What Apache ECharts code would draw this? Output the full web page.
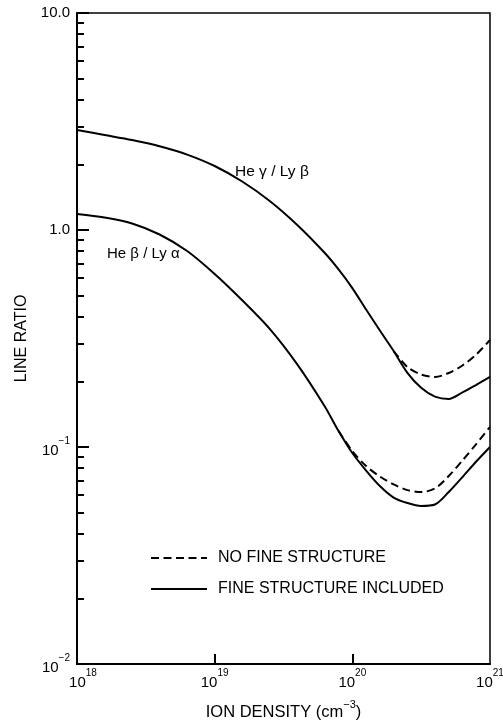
<!DOCTYPE html>
<html>
<head>
<meta charset="utf-8">
<script src="https://cdn.jsdelivr.net/npm/echarts@6/dist/echarts.min.js"></script>
<style>
  html, body { margin: 0; padding: 0; background: #fff; }
  #chart { width: 503px; height: 721px; }
</style>
</head>
<body>
<div id="chart"></div>
<script>
// ---- Data (ion density in cm^-3, line ratio) ----
const xMin = 1e18, xMax = 1e21;
const yMin = 0.01, yMax = 10;
const xLabelValues = [1e18, 1e19, 1e20, 1e21];
const xTickValues = [1e19, 1e20];
const yLabelValues = [0.01, 0.1, 1, 10];
const yMinorTickValues = [0.02,0.03,0.04,0.05,0.06,0.07,0.08,0.09,0.2,0.3,0.4,0.5,0.6,0.7,0.8,0.9,2,3,4,5,6,7,8,9];

// He gamma / Ly beta, fine structure included (solid)
const gammaSolidX = [1e18, 1.585e18, 2.512e18, 3.981e18, 6.310e18, 1e19, 1.585e19, 2.512e19, 3.981e19, 6.310e19, 7.943e19, 1e20, 1.259e20, 1.585e20, 1.995e20, 2.512e20, 3.162e20, 3.981e20, 5.012e20, 6.310e20, 7.943e20, 1e21];
const gammaSolidY = [2.890, 2.741, 2.598, 2.431, 2.226, 1.972, 1.673, 1.360, 1.054, 0.783, 0.658, 0.540, 0.430, 0.344, 0.277, 0.2197, 0.1874, 0.1707, 0.1664, 0.1784, 0.1934, 0.2102];
// He gamma / Ly beta, no fine structure (dashed)
const gammaDashedX = [1.995e20, 2.512e20, 3.162e20, 3.981e20, 5.012e20, 6.310e20, 7.943e20, 1e21];
const gammaDashedY = [0.277, 0.2337, 0.2158, 0.2102, 0.2193, 0.2375, 0.2668, 0.3112];

// He beta / Ly alpha, fine structure included (solid)
const betaSolidX = [1e18, 1.585e18, 2.512e18, 3.981e18, 6.310e18, 1e19, 1.585e19, 2.512e19, 3.981e19, 6.310e19, 7.943e19, 1e20, 1.259e20, 1.585e20, 1.995e20, 2.512e20, 3.162e20, 3.981e20, 5.012e20, 6.310e20, 7.943e20, 1e21];
const betaSolidY = [1.185, 1.142, 1.072, 0.9534, 0.800, 0.627, 0.4743, 0.350, 0.2402, 0.1537, 0.1185, 0.0938, 0.0779, 0.0661, 0.0585, 0.0552, 0.0535, 0.0543, 0.0620, 0.0727, 0.0857, 0.100];
// He beta / Ly alpha, no fine structure (dashed)
const betaDashedX = [7.943e19, 1e20, 1.259e20, 1.585e20, 1.995e20, 2.512e20, 3.162e20, 3.981e20, 5.012e20, 6.310e20, 7.943e20, 1e21];
const betaDashedY = [0.1185, 0.0958, 0.0817, 0.0731, 0.0672, 0.0633, 0.0620, 0.0644, 0.0735, 0.0867, 0.1032, 0.1237];

const legendNames = ['NO FINE STRUCTURE', 'FINE STRUCTURE INCLUDED'];
const curveLabels = ['He γ / Ly β', 'He β / Ly α'];

// ---- Chart ----
const FONT = '"Liberation Sans", Arial, Helvetica, sans-serif';
const zip = (xs, ys) => xs.map((x, i) => [x, ys[i]]);
const sup = (s) => s.replace('-', '\u2212');
const CLEAR = 'rgba(0,0,0,0)';
// nudge end values just inside the extent so float rounding of log() does not drop them
const insideExtent = (vals, lo, hi) => vals.map((v) => v <= lo ? v * (1 + 1e-12) : (v >= hi ? v * (1 - 1e-12) : v));

const chart = echarts.init(document.getElementById('chart'), null, { renderer: 'canvas' });

const lineSeries = (name, xs, ys, dashed) => ({
  type: 'line',
  name: name,
  data: zip(xs, ys),
  symbol: 'none',
  smooth: 0.3,
  itemStyle: { color: CLEAR, borderColor: CLEAR, borderWidth: 0 },
  lineStyle: { color: '#000', width: 2, type: dashed ? [8, 4.5] : 'solid' },
  z: dashed ? 2 : 3
});

const richNum = {
  p: { width: 12, fontSize: 10 },
  b: { fontFamily: FONT, fontSize: 15, color: '#000', lineHeight: 22, verticalAlign: 'bottom' },
  s: { fontFamily: FONT, fontSize: 10, color: '#000', lineHeight: 22, verticalAlign: 'top' },
  n: { fontFamily: FONT, fontSize: 15, color: '#000' }
};

const option = {
  animation: false,
  backgroundColor: '#fff',
  grid: {
    left: 77, right: 13, top: 13, bottom: 57,
    containLabel: false,
    outerBoundsMode: 'none',
    show: true, borderColor: '#000', borderWidth: 1.5
  },
  legend: {
    data: legendNames,
    orient: 'vertical',
    left: 145,
    top: 545,
    itemWidth: 56,
    itemHeight: 14,
    itemGap: 15,
    selectedMode: false,
    itemStyle: { color: CLEAR, borderColor: CLEAR, borderWidth: 0 },
    textStyle: { fontFamily: FONT, fontSize: 16, color: '#000', padding: [0, 0, 0, 6] }
  },
  xAxis: {
    type: 'log',
    logBase: 10,
    min: xMin,
    max: xMax,
    name: '{a|ION DENSITY (cm}{s|−3}{a|)}',
    nameLocation: 'middle',
    nameGap: 35,
    nameTextStyle: {
      rich: {
        a: { fontFamily: FONT, fontSize: 16.5, color: '#000', lineHeight: 22, verticalAlign: 'bottom' },
        s: { fontFamily: FONT, fontSize: 11, color: '#000', lineHeight: 22, verticalAlign: 'top' }
      }
    },
    axisLine: { show: true, lineStyle: { color: '#000', width: 2 } },
    axisTick: { show: true, inside: true, length: 10, customValues: xTickValues, lineStyle: { color: '#000', width: 2 } },
    minorTick: { show: false },
    splitLine: { show: false },
    axisLabel: {
      customValues: insideExtent(xLabelValues, xMin, xMax),
      showMinLabel: true,
      showMaxLabel: true,
      hideOverlap: false,
      margin: 4,
      formatter: (v) => {
        const e = Math.round(Math.log10(v));
        return (v <= xMin * 1.001 ? '{p| }' : '') + '{b|10}{s|' + e + '}';
      },
      rich: richNum
    }
  },
  yAxis: [
    {
      type: 'log',
      logBase: 10,
      min: yMin,
      max: yMax,
      name: 'LINE RATIO',
      nameLocation: 'middle',
      nameGap: 44,
      nameTextStyle: { fontFamily: FONT, fontSize: 16, color: '#000' },
      axisLine: { show: true, lineStyle: { color: '#000', width: 2 } },
      axisTick: { show: true, inside: true, length: 12, customValues: insideExtent(yLabelValues, yMin, yMax), lineStyle: { color: '#000', width: 2 } },
      minorTick: { show: false },
      splitLine: { show: false },
      axisLabel: {
        customValues: insideExtent(yLabelValues, yMin, yMax),
        showMinLabel: true,
        showMaxLabel: true,
        margin: 7,
        formatter: (v) => {
          const e = Math.round(Math.log10(v));
          if (e === 1) return '{n|10.0}';
          if (e === 0) return '{n|1.0}';
          return '{b|10}{s|' + sup(String(e)) + '}';
        },
        rich: richNum
      }
    },
    {
      type: 'log',
      logBase: 10,
      min: yMin,
      max: yMax,
      position: 'left',
      axisLine: { show: false },
      axisTick: { show: true, inside: true, length: 7, customValues: yMinorTickValues, lineStyle: { color: '#000', width: 2 } },
      axisLabel: { show: false },
      minorTick: { show: false },
      splitLine: { show: false }
    }
  ],
  series: [
    lineSeries(legendNames[0], gammaDashedX, gammaDashedY, true),
    lineSeries(legendNames[1], gammaSolidX, gammaSolidY, false),
    lineSeries(legendNames[0], betaDashedX, betaDashedY, true),
    lineSeries(legendNames[1], betaSolidX, betaSolidY, false)
  ],
  graphic: [
    { type: 'text', left: 235, top: 164, style: { text: curveLabels[0], font: '15.5px ' + FONT, fill: '#000' } },
    { type: 'text', left: 107, top: 246, style: { text: curveLabels[1], font: '15px ' + FONT, fill: '#000' } }
  ]
};

chart.setOption(option);
</script>
</body>
</html>
